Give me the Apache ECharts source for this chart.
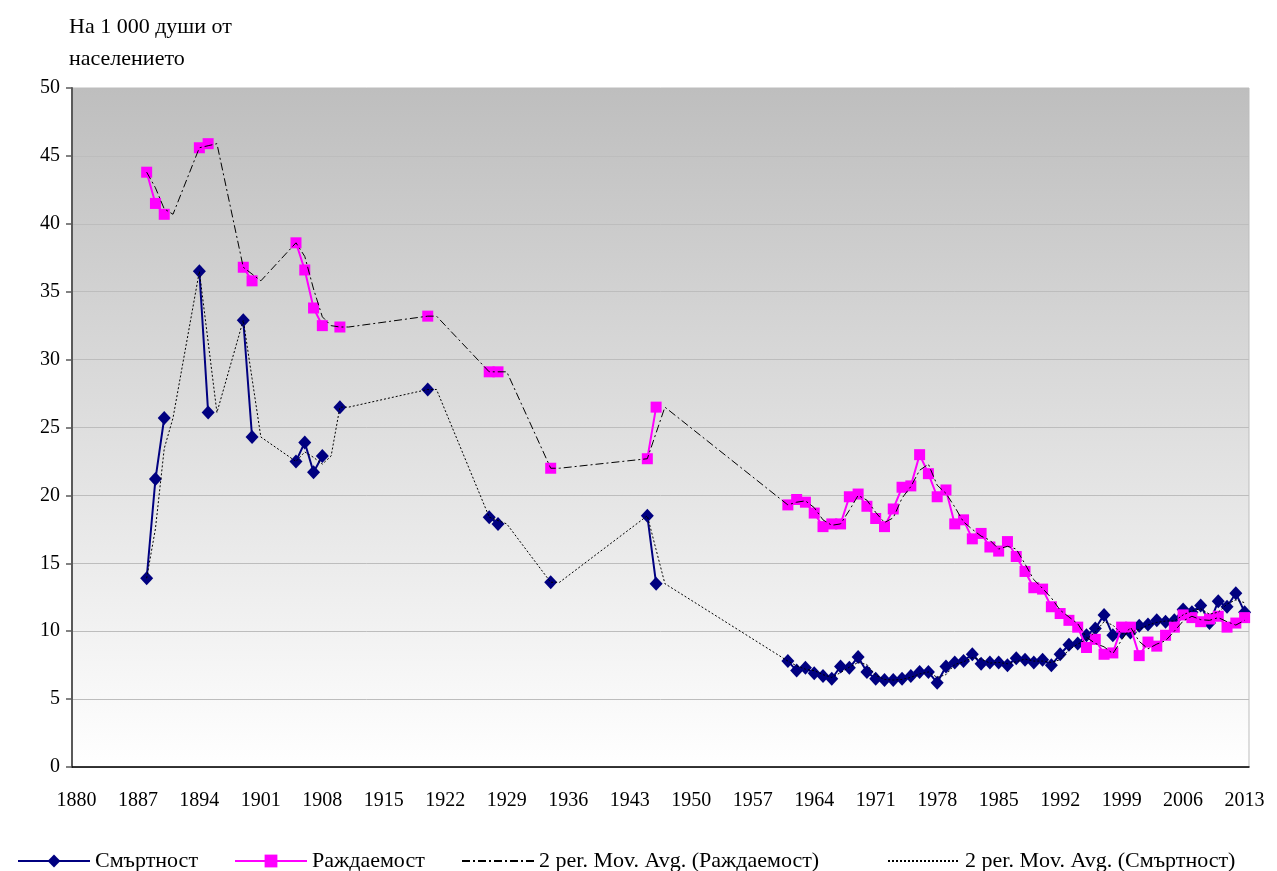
<!DOCTYPE html>
<html><head><meta charset="utf-8">
<script src="https://cdn.jsdelivr.net/npm/echarts@6/dist/echarts.min.js"></script>
<style>html,body{margin:0;padding:0;background:#fff}#c{width:1277px;height:871px}</style>
</head><body><div id="c"></div>
<script>
// Observation years (blank years between them are gaps in the lines)
const years = [1888,1889,1890,1894,1895,1899,1900,1905,1906,1907,1908,1910,1920,1927,1928,1934,1945,1946,
  1961,1962,1963,1964,1965,1966,1967,1968,1969,1970,1971,1972,1973,1974,1975,1976,1977,1978,1979,1980,
  1981,1982,1983,1984,1985,1986,1987,1988,1989,1990,1991,1992,1993,1994,1995,1996,1997,1998,1999,2000,
  2001,2002,2003,2004,2005,2006,2007,2008,2009,2010,2011,2012,2013];
// Смъртност (deaths per 1000)
const deathRate = [13.9,21.2,25.7,36.5,26.1,32.9,24.3,22.5,23.9,21.7,22.9,26.5,27.8,18.4,17.9,13.6,18.5,13.5,
  7.8,7.1,7.3,6.9,6.7,6.5,7.4,7.3,8.1,7.0,6.5,6.4,6.4,6.5,6.7,7.0,7.0,6.2,7.4,7.7,
  7.8,8.3,7.6,7.7,7.7,7.5,8.0,7.9,7.7,7.9,7.5,8.3,9.0,9.1,9.7,10.2,11.2,9.7,9.9,9.9,
  10.4,10.5,10.8,10.7,10.8,11.6,11.4,11.9,10.6,12.2,11.8,12.8,11.4];
// Раждаемост (births per 1000)
const birthRate = [43.8,41.5,40.7,45.6,45.9,36.8,35.8,38.6,36.6,33.8,32.5,32.4,33.2,29.1,29.1,22.0,22.7,26.5,
  19.3,19.7,19.5,18.7,17.7,17.9,17.9,19.9,20.1,19.2,18.3,17.7,19.0,20.6,20.7,23.0,21.6,19.9,20.4,17.9,
  18.2,16.8,17.2,16.2,15.9,16.6,15.5,14.4,13.2,13.1,11.8,11.3,10.8,10.3,8.8,9.4,8.3,8.4,10.3,10.3,
  8.2,9.2,8.9,9.7,10.3,11.2,11.0,10.7,10.9,11.1,10.3,10.6,11.0];
const xTickLabels = [1880,1887,1894,1901,1908,1915,1922,1929,1936,1943,1950,1957,1964,1971,1978,1985,1992,1999,2006,2013];
const firstCategory = 1880, lastCategory = 2013;

function toMap(vals){ const m = new Map(); years.forEach((y,i)=>m.set(y, vals[i])); return m; }
function lineData(vals){
  const m = toMap(vals), out = [];
  for (let y = years[0]; y <= years[years.length-1]; y++) out.push([y, m.has(y) ? m.get(y) : '-']);
  return out;
}
// Excel 2-period moving-average trendline (blank cells ignored)
function movAvg(vals){
  const m = toMap(vals), out = [];
  for (let y = years[0]; y <= lastCategory; y++) {
    const a = m.get(y), b = m.get(y-1);
    if (a !== undefined && b !== undefined) out.push([y, (a+b)/2]);
    else if (a !== undefined) out.push([y, a]);
    else if (b !== undefined) out.push([y, b]);
  }
  return out;
}

const serif = '"Liberation Serif","Times New Roman",serif';
const chart = echarts.init(document.getElementById('c'), null, {renderer:'canvas'});
const legendBase = {
  top: 845, itemWidth: 72, itemHeight: 16, itemGap: 0,
  textStyle: {fontFamily: serif, fontSize: 22, color: '#000'},
  selectedMode: false
};
const noSymbol = {color: 'transparent', borderColor: 'transparent', borderWidth: 0};
chart.setOption({
  animation: false,
  backgroundColor: '#fff',
  title: {
    text: 'На 1 000 души от\nнаселението', left: 64, top: 6,
    textStyle: {fontFamily: serif, fontSize: 22, fontWeight: 'normal', color: '#000', lineHeight: 32}
  },
  legend: [
    Object.assign({}, legendBase, {left: 12, data: ['Смъртност']}),
    Object.assign({}, legendBase, {left: 229, data: ['Раждаемост']}),
    Object.assign({}, legendBase, {left: 456, data: ['2 per. Mov. Avg. (Раждаемост)'], itemStyle: noSymbol}),
    Object.assign({}, legendBase, {left: 882, data: ['2 per. Mov. Avg. (Смъртност)'], itemStyle: noSymbol})
  ],
  grid: {
    left: 72, right: 28, top: 88, bottom: 104, show: true,
    borderColor: '#BDBDBD', borderWidth: 1,
    backgroundColor: {type:'linear', x:0, y:0, x2:0, y2:1,
      colorStops:[{offset:0, color:'#BEBEBE'},{offset:1, color:'#FFFFFF'}]}
  },
  xAxis: {
    type: 'value', min: firstCategory - 0.5, max: lastCategory + 0.5,
    axisLine: {show: true, lineStyle: {color: '#000', width: 1.5}},
    axisTick: {show: false},
    splitLine: {show: false},
    axisLabel: {customValues: xTickLabels, formatter: v => String(v), margin: 24,
      fontFamily: serif, fontSize: 20, color: '#000'}
  },
  yAxis: {
    type: 'value', min: 0, max: 50, interval: 5,
    axisLine: {show: true, lineStyle: {color: '#5A5A5A', width: 2}},
    axisTick: {show: true, length: 6, lineStyle: {color: '#5A5A5A', width: 1.5}},
    splitLine: {show: true, lineStyle: {color: '#BDBDBD', width: 1}},
    axisLabel: {margin: 12, fontFamily: serif, fontSize: 20, color: '#000'}
  },
  series: [
    {name: 'Смъртност', type: 'line', data: lineData(deathRate), z: 2,
      symbol: 'diamond', symbolSize: [13, 14], showSymbol: true,
      lineStyle: {color: '#000080', width: 2}, itemStyle: {color: '#000080'},
      emphasis: {disabled: true}},
    {name: 'Раждаемост', type: 'line', data: lineData(birthRate), z: 3,
      symbol: 'rect', symbolSize: 11, showSymbol: true,
      lineStyle: {color: '#FF00FF', width: 2}, itemStyle: {color: '#FF00FF'},
      emphasis: {disabled: true}},
    {name: '2 per. Mov. Avg. (Раждаемост)', type: 'line', data: movAvg(birthRate), z: 4,
      symbol: 'none', lineStyle: {color: '#000', width: 1, type: [8, 3, 2, 3]},
      itemStyle: {color: '#000'}, emphasis: {disabled: true}},
    {name: '2 per. Mov. Avg. (Смъртност)', type: 'line', data: movAvg(deathRate), z: 4,
      symbol: 'none', lineStyle: {color: '#000', width: 1, type: [2, 2]},
      itemStyle: {color: '#000'}, emphasis: {disabled: true}}
  ]
});
</script></body></html>
